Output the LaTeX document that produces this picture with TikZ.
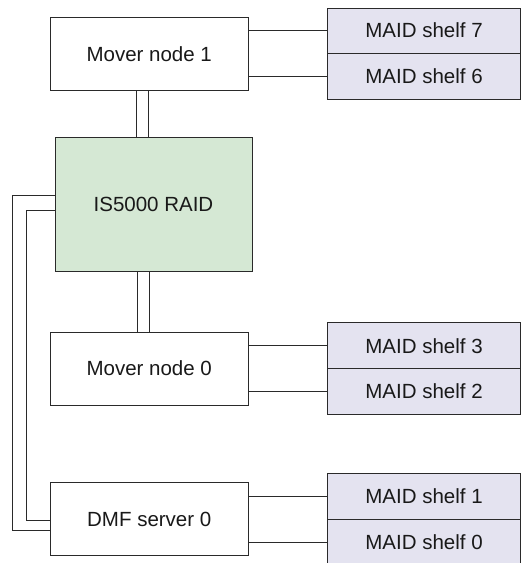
\documentclass[tikz,border=0pt]{standalone}
\usepackage{fontspec}
\setmainfont{Liberation Sans}
\definecolor{raidfill}{HTML}{D5E8D4}
\definecolor{shelffill}{HTML}{E4E3F0}
\definecolor{edge}{HTML}{2A2A2A}
\begin{document}
\begin{tikzpicture}[x=1pt,y=-1pt,
  every node/.style={inner sep=0pt,outer sep=0pt,font=\fontsize{20.5}{24}\selectfont,text=black!90},
  hostbox/.style={draw=edge,line width=1pt,fill=white,minimum width=197.5pt,minimum height=73pt,anchor=north west},
  raidbox/.style={draw=edge,line width=1pt,fill=raidfill,minimum width=197pt,minimum height=134pt,anchor=north west},
  shelfbox/.style={draw=edge,line width=1pt,fill=shelffill,minimum width=193pt,minimum height=46pt,anchor=north west},
  link/.style={draw=edge,line width=1pt}]
\useasboundingbox (0,0) rectangle (521,563);
% hosts
\node[hostbox] (m1) at (50.5,17.5) {Mover node 1};
\node[raidbox] (raid) at (55,137.5) {IS5000 RAID};
\node[hostbox] (m0) at (50.5,332) {Mover node 0};
\node[hostbox] (dmf) at (50.5,482.7) {DMF server 0};
% shelves
\node[shelfbox,minimum height=45pt] (s7) at (327.5,8) {MAID shelf 7};
\node[shelfbox] (s6) at (327.5,53) {MAID shelf 6};
\node[shelfbox] (s3) at (327.5,322.7) {MAID shelf 3};
\node[shelfbox] (s2) at (327.5,368.3) {MAID shelf 2};
\node[shelfbox] (s1) at (327.5,473.3) {MAID shelf 1};
\node[shelfbox] (s0) at (327.5,519.3) {MAID shelf 0};
% shelf links
\foreach \h/\s in {m1/s7,m1/s6,m0/s3,m0/s2,dmf/s1,dmf/s0}
  \draw[link] (\s.west -| \h.east) -- (\s.west);
% vertical pairs
\coordinate (xa) at (136,0);
\coordinate (xb) at (148,0);
\coordinate (xc) at (137.5,0);
\coordinate (xd) at (149,0);
\draw[link] (m1.south -| xa) -- (raid.north -| xa);
\draw[link] (m1.south -| xb) -- (raid.north -| xb);
\draw[link] (raid.south -| xc) -- (m0.north -| xc);
\draw[link] (raid.south -| xd) -- (m0.north -| xd);
% left loops
\coordinate (la) at (12.7,195.7);
\coordinate (lb) at (12.7,530.7);
\coordinate (lc) at (26.7,210);
\coordinate (ld) at (26.7,520.7);
\draw[link] (raid.west |- la) -- (la) -- (lb) -- (dmf.west |- lb);
\draw[link] (raid.west |- lc) -- (lc) -- (ld) -- (dmf.west |- ld);
\end{tikzpicture}
\end{document}
